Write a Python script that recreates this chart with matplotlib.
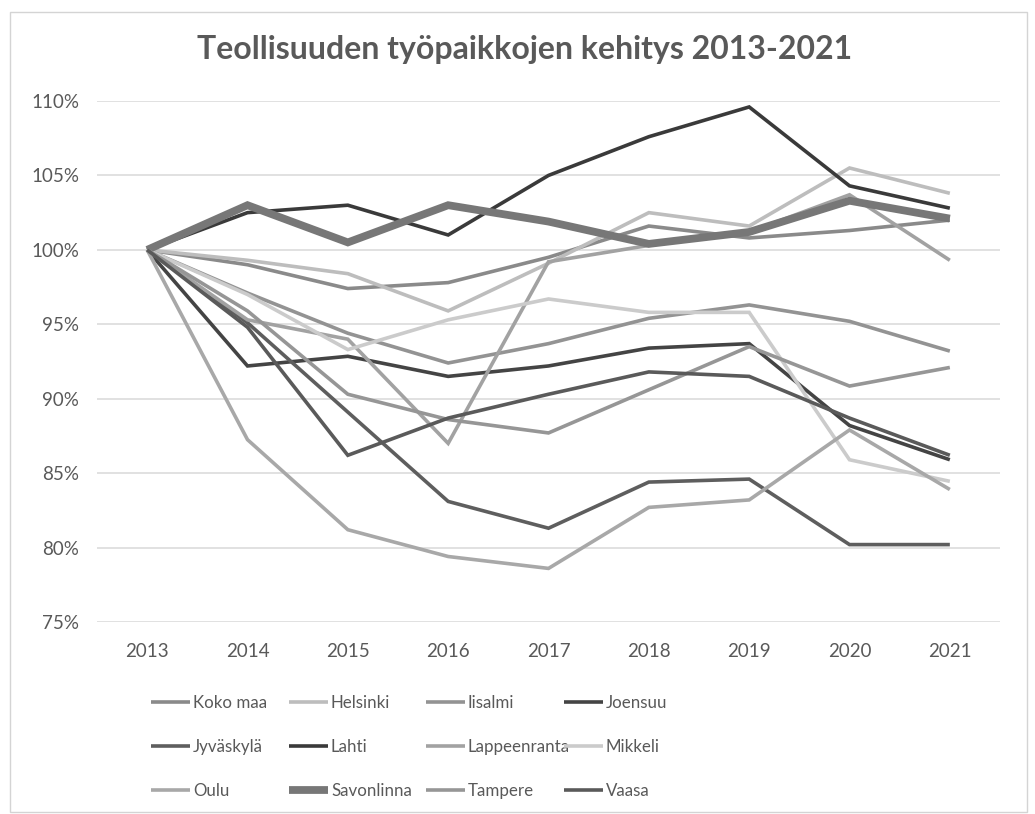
import numpy as np
import matplotlib
matplotlib.use("Agg")
import matplotlib.pyplot as plt
from matplotlib.patches import Rectangle

YEARS = [2013, 2014, 2015, 2016, 2017, 2018, 2019, 2020, 2021]

CITIES = ["Koko maa", "Helsinki", "Iisalmi", "Joensuu",
          "Jyväskylä", "Lahti", "Lappeenranta", "Mikkeli",
          "Oulu", "Savonlinna", "Tampere", "Vaasa"]

# indeksi, 2013 = 100 %
koko_maa     = [100, 99.0, 97.4, 97.8, 99.5, 101.6, 100.8, 101.3, 102.0]
helsinki     = [100, 99.3, 98.4, 95.9, 99.1, 102.5, 101.6, 105.5, 103.8]
iisalmi      = [100, 97.1, 94.4, 92.4, 93.7, 95.4, 96.3, 95.2, 93.2]
joensuu      = [100, 92.2, 92.85, 91.5, 92.2, 93.4, 93.7, 88.2, 85.9]
jyvaskyla    = [100, 95.1, 89.1, 83.1, 81.3, 84.4, 84.6, 80.2, 80.2]
lahti        = [100, 102.5, 103.0, 101.0, 105.0, 107.6, 109.6, 104.3, 102.8]
lappeenranta = [100, 95.3, 94.0, 87.0, 99.2, 100.3, 101.2, 103.7, 99.3]
mikkeli      = [100, 97.0, 93.3, 95.3, 96.7, 95.8, 95.8, 85.9, 84.45]
oulu         = [100, 87.25, 81.2, 79.4, 78.6, 82.7, 83.2, 87.9, 83.9]
savonlinna   = [100, 103.0, 100.5, 103.0, 101.9, 100.4, 101.2, 103.3, 102.1]
tampere      = [100, 95.9, 90.3, 88.6, 87.7, 90.6, 93.5, 90.85, 92.1]
vaasa        = [100, 94.8, 86.2, 88.7, 90.3, 91.8, 91.5, 88.7, 86.2]

SERIES = [koko_maa, helsinki, iisalmi, joensuu, jyvaskyla, lahti,
          lappeenranta, mikkeli, oulu, savonlinna, tampere, vaasa]

COLORS = ["#8a8a8a", "#bdbdbd", "#939393", "#444444",
          "#5e5e5e", "#3a3a3a", "#a2a2a2", "#cbcbcb",
          "#a8a8a8", "#777777", "#969696", "#5a5a5a"]
WIDTHS = [2.6] * 12
WIDTHS[9] = 5.6

Y_TICKS = [75, 80, 85, 90, 95, 100, 105, 110]

plt.rcParams["font.family"] = ["Lato", "DejaVu Sans"]

fig = plt.figure(figsize=(10.35, 8.14), dpi=100)
ax = fig.add_axes([97 / 1035, 1 - 622 / 814, 903 / 1035, 521 / 814])

x = np.arange(len(YEARS))
handles = []
for name, vals, col, lw in zip(CITIES, SERIES, COLORS, WIDTHS):
    h, = ax.plot(x, vals, color=col, linewidth=lw, label=name,
                 solid_joinstyle="miter", solid_capstyle="butt")
    handles.append(h)

ax.set_xlim(-0.5, len(YEARS) - 0.5)
ax.set_ylim(75, 110)
ax.set_yticks(Y_TICKS)
ax.set_yticklabels([f"{t}%" for t in Y_TICKS])
ax.set_xticks(x)
ax.set_xticklabels([str(y) for y in YEARS])
ax.grid(axis="y", color="#dcdcdc", linewidth=1.2)
ax.set_axisbelow(True)
for s in ax.spines.values():
    s.set_visible(False)
ax.tick_params(axis="both", length=0, labelsize=13.5, colors="#595959")
ax.tick_params(axis="y", pad=13)
ax.tick_params(axis="x", pad=15)

fig.text(0.507, 1 - 50 / 814, "Teollisuuden työpaikkojen kehitys 2013-2021",
         ha="center", va="center", fontsize=23, fontweight="bold", color="#595959")

# selite rivi kerrallaan, neljä saraketta
col_x = [148, 286, 423, 561]
for c, cx in enumerate(col_x):
    idx = [c, c + 4, c + 8]
    fig.legend([handles[i] for i in idx], [CITIES[i] for i in idx],
               loc="upper left", bbox_to_anchor=(cx / 1035, 1 - 692 / 814),
               frameon=False, fontsize=12.2, handlelength=2.25,
               handletextpad=0.2, labelspacing=1.65, borderpad=0.2,
               borderaxespad=0, labelcolor="#595959")

fig.patches.append(Rectangle((10 / 1035, 2 / 814), 1017 / 1035, 800 / 814,
                             transform=fig.transFigure, fill=False,
                             edgecolor="#d4d4d4", linewidth=1))

fig.savefig("out.png", dpi=100, facecolor="white")
